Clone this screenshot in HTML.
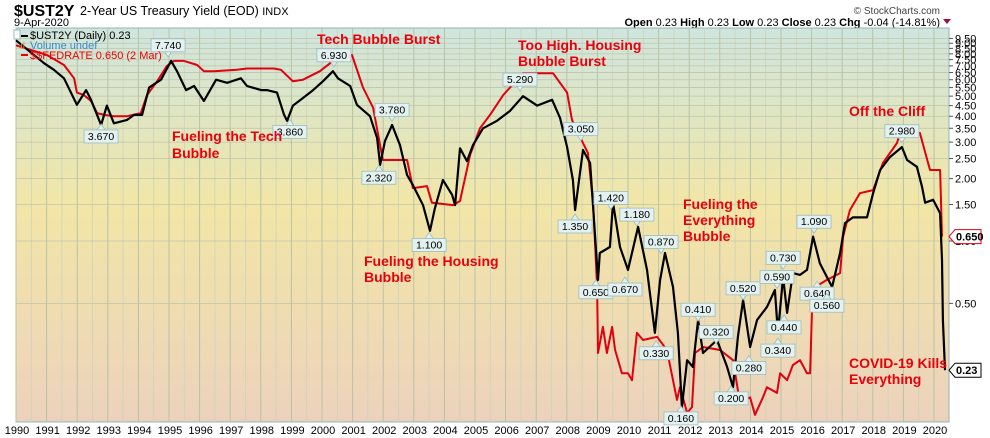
<!DOCTYPE html>
<html><head><meta charset="utf-8">
<style>
body{margin:0;background:#fff;width:990px;height:438px;overflow:hidden;font-family:"Liberation Sans",sans-serif;}
svg{display:block}
</style></head>
<body>
<svg id="chart" width="990" height="438" viewBox="0 0 990 438" xmlns="http://www.w3.org/2000/svg">
<defs>
<linearGradient id="bg" x1="0" y1="0" x2="0" y2="1">
<stop offset="0" stop-color="#cfe5de"/>
<stop offset="0.45" stop-color="#f2e6a6"/>
<stop offset="1" stop-color="#ecd2bd"/>
</linearGradient>
</defs>
<text x="14" y="16" font-size="16" font-weight="bold" fill="#000">$UST2Y</text>
<text x="80" y="15" font-size="12.5" fill="#000">2-Year US Treasury Yield (EOD) <tspan font-size="11">INDX</tspan></text>
<text x="14" y="26" font-size="11" fill="#000">9-Apr-2020</text>
<text x="940" y="14" font-size="10" fill="#444" text-anchor="end">© StockCharts.com</text>
<text x="940" y="26" font-size="11" text-anchor="end" fill="#000"><tspan font-weight="bold">Open</tspan> 0.23  <tspan font-weight="bold">High</tspan> 0.23  <tspan font-weight="bold">Low</tspan> 0.23  <tspan font-weight="bold">Close</tspan> 0.23  <tspan font-weight="bold">Chg</tspan> -0.04 (-14.81%)</text>
<path d="M943 19 L951 19 L947 24 Z" fill="#a0103c"/>
<rect x="16" y="28" width="933" height="394" fill="url(#bg)" stroke="#8fb4b8" stroke-width="1"/>
<g id="grid"></g>
<g id="series"></g>
<g id="callouts"></g>
<g id="axes"></g>
<g>
<rect x="14" y="30" width="6" height="9" fill="#fff" stroke="#9bb"/>
<line x1="21" y1="36" x2="28" y2="36" stroke="#000" stroke-width="2"/>
<text x="30" y="39" font-size="11" fill="#000">$UST2Y (Daily) 0.23</text>
<text x="20" y="49" font-size="10" fill="#d4a020">ıl</text>
<text x="30" y="49" font-size="11" fill="#3a8ad0">Volume undef</text>
<line x1="21" y1="55" x2="28" y2="55" stroke="#e00" stroke-width="2"/>
<text x="30" y="59" font-size="11" fill="#e00">$$FEDRATE 0.650 (2 Mar)</text>
</g>
<g font-size="14" font-weight="bold" fill="#e8000c">
<text x="317" y="44">Tech Bubble Burst</text>
<text x="172" y="141">Fueling the Tech</text>
<text x="172" y="158">Bubble</text>
<text x="518" y="50">Too High. Housing</text>
<text x="518" y="66">Bubble Burst</text>
<text x="364" y="266">Fueling the Housing</text>
<text x="364" y="282">Bubble</text>
<text x="683" y="209">Fueling the</text>
<text x="683" y="225">Everything</text>
<text x="683" y="241">Bubble</text>
<text x="849" y="116">Off the Cliff</text>
<text x="849" y="368">COVID-19 Kills</text>
<text x="849" y="384">Everything</text>
</g>
</svg>
<script>
const years = [1990,1991,1992,1993,1994,1995,1996,1997,1998,1999,2000,2001,2002,2003,2004,2005,2006,2007,2008,2009,2010,2011,2012,2013,2014,2015,2016,2017,2018,2019,2020];
const yTicks = [9.5,9,8.5,8,7.5,7,6.5,6,5.5,5,4.5,4,3.5,3,2.5,2,1.5,1,0.5];
const ust2yT = [1990.00,1990.92,1991.24,1991.57,1991.99,1992.29,1992.45,1992.78,1992.97,1993.20,1993.63,1993.86,1994.12,1994.35,1994.74,1995.07,1995.26,1995.56,1995.82,1996.14,1996.54,1996.90,1997.35,1997.55,1998.01,1998.20,1998.53,1998.76,1998.86,1999.05,1999.38,1999.71,2000.03,2000.36,2000.52,2000.92,2001.14,2001.57,2001.80,2001.90,2002.06,2002.29,2002.55,2002.78,2002.97,2003.30,2003.53,2003.69,2003.95,2004.25,2004.35,2004.51,2004.74,2004.93,2005.26,2005.72,2006.14,2006.57,2007.03,2007.52,2007.78,2008.01,2008.20,2008.27,2008.53,2008.76,2008.86,2009.02,2009.08,2009.41,2009.51,2009.74,2010.00,2010.33,2010.62,2010.88,2011.05,2011.21,2011.47,2011.63,2011.76,2011.93,2012.12,2012.29,2012.45,2012.91,2013.24,2013.43,2013.59,2013.76,2013.99,2014.22,2014.54,2014.80,2014.90,2015.07,2015.20,2015.39,2015.62,2015.85,2016.05,2016.27,2016.50,2016.67,2016.93,2017.09,2017.35,2017.81,2018.01,2018.24,2018.56,2018.95,2019.12,2019.44,2019.61,2019.71,2019.97,2020.20,2020.26,2020.29,2020.36];
const ust2yV = [9.3,7.2,6.7,6.1,4.54,5.35,4.8,3.63,4.5,3.7,3.84,4.06,4.06,5.5,6.0,7.4,6.6,5.35,5.6,4.74,6.0,5.8,6.1,5.6,5.35,5.35,5.2,4.06,3.8,4.5,4.9,5.35,5.9,6.6,6.1,5.6,4.54,4.0,3.14,2.33,3.04,3.63,2.9,2.08,1.86,1.49,1.12,1.44,1.97,1.67,1.49,2.8,2.43,2.9,3.5,3.8,4.24,5.0,4.5,4.8,3.92,2.84,1.97,1.41,2.75,2.38,1.46,0.649,0.875,0.935,1.53,0.935,0.725,1.17,0.725,0.36,0.649,0.875,0.6,0.36,0.158,0.266,0.247,0.416,0.288,0.333,0.247,0.197,0.345,0.519,0.308,0.416,0.48,0.58,0.36,0.67,0.45,0.7,0.686,0.725,1.05,0.78,0.67,0.6,0.875,1.22,1.3,1.3,1.7,2.2,2.54,2.84,2.46,2.28,1.82,1.53,1.58,1.36,0.81,0.416,0.238];
const fedT = [1990.00,1991.01,1991.57,1991.90,1991.99,1992.22,1992.45,1992.65,1992.88,1993.20,1993.63,1994.08,1994.28,1994.61,1994.93,1995.16,1995.49,1995.92,1996.14,1996.47,1997.22,1997.55,1998.43,1998.66,1999.05,1999.38,1999.93,2000.26,2000.49,2000.98,2001.34,2001.67,2001.90,2001.99,2002.78,2002.97,2003.43,2003.59,2004.28,2004.51,2004.84,2005.16,2005.49,2005.92,2006.57,2007.55,2008.01,2008.17,2008.53,2008.69,2008.86,2008.99,2009.02,2009.18,2009.31,2009.48,2009.58,2009.80,2010.00,2010.13,2010.29,2010.49,2010.95,2011.27,2011.60,2011.70,2011.93,2012.09,2012.19,2012.45,2013.01,2013.43,2013.66,2013.99,2014.15,2014.41,2014.54,2014.87,2014.97,2015.20,2015.39,2015.62,2015.85,2015.95,2016.01,2016.11,2016.50,2016.93,2017.03,2017.25,2017.58,2018.01,2018.33,2018.79,2018.89,2019.54,2019.87,2020.20,2020.26];
const fedV = [8.8,7.9,7.07,6.1,5.2,5.06,4.74,4.14,4.06,4.0,4.0,4.14,5.06,5.9,7.0,7.4,7.4,7.07,6.6,6.6,6.7,6.8,6.8,6.7,5.9,6.0,6.6,7.2,8.0,7.9,5.5,4.4,2.9,2.46,2.46,1.8,1.84,1.53,1.49,1.56,2.6,3.5,4.06,5.06,6.45,6.45,5.2,3.84,2.97,2.66,1.53,0.6,0.288,0.385,0.288,0.385,0.298,0.23,0.23,0.213,0.36,0.333,0.345,0.298,0.171,0.197,0.148,0.158,0.288,0.308,0.298,0.266,0.165,0.176,0.145,0.176,0.197,0.185,0.23,0.213,0.252,0.266,0.23,0.23,0.45,0.6,0.649,0.7,1.05,1.41,1.7,1.76,2.38,2.97,3.32,3.32,2.2,2.2,1.05];
const calloutT = [1994.97,1992.78,1998.95,2000.39,2002.29,2001.86,2003.50,2006.47,2008.46,2008.27,2009.44,2010.29,2008.95,2009.90,2011.08,2010.92,2012.29,2011.73,2012.88,2013.76,2013.95,2013.37,2014.87,2015.07,2015.10,2014.90,2016.08,2016.18,2016.50,2018.95];
const calloutV = [7.74,3.67,3.86,6.93,3.78,2.32,1.10,5.29,3.05,1.35,1.42,1.18,0.65,0.67,0.87,0.33,0.41,0.16,0.32,0.52,0.28,0.20,0.59,0.73,0.44,0.34,1.09,0.64,0.56,2.98];
const calloutSide = ['up','down','down','up','up','down','down','up','up','down','up','up','down','down','up','down','up','down','up','up','down','down','up','up','down','down','up','down','down','up'];

const NS='http://www.w3.org/2000/svg';
const X0=16, XS=30.6, Y1=241, YK=90, LEFT=16, RIGHT=949, TOP=28, BOT=422;
function xs(t){return X0+(t-1990)*XS;}
function ys(v){return Y1-YK*Math.log(v);}
function mk(tag,attrs,parent){const e=document.createElementNS(NS,tag);for(const k in attrs)e.setAttribute(k,attrs[k]);parent.appendChild(e);return e;}
const grid=document.getElementById('grid'), axes=document.getElementById('axes'), series=document.getElementById('series'), callouts=document.getElementById('callouts');

years.forEach(y=>{
  const x=xs(y);
  const gl=mk('line',{x1:x,x2:x,y1:TOP,y2:BOT,stroke:'#b7c2a6','stroke-width':1},grid);
  
  
  if(y<2020){const h=mk('line',{x1:x+XS/2,x2:x+XS/2,y1:TOP,y2:BOT,stroke:'#ccd3bb','stroke-width':0.8},grid);
    
    }
  const t=mk('text',{x:x+1,y:434,'font-size':11,'text-anchor':'middle',fill:'#000'},axes);
  t.textContent=y;
  
  
});
yTicks.forEach(v=>{
  const y=ys(v);
  const gl=mk('line',{x1:LEFT,x2:RIGHT,y1:y,y2:y,stroke:'#bcc6ae','stroke-width':0.8},grid);
  
  
  const tk=mk('line',{x1:RIGHT,x2:RIGHT+4,y1:y,y2:y,stroke:'#555'},axes);
  
  
  const t=mk('text',{x:RIGHT+6,y:y+4,'font-size':11,fill:'#000'},axes);
  t.textContent=v.toFixed(2);
  
  
});

function path(T,V){return T.map((t,i)=>(i?'L':'M')+xs(t).toFixed(1)+' '+ys(V[i]).toFixed(1)).join(' ');}
const fed=mk('path',{d:path(fedT,fedV),fill:'none',stroke:'#e00010','stroke-width':2,'stroke-linejoin':'round'},series);


const ust=mk('path',{d:path(ust2yT,ust2yV),fill:'none',stroke:'#000','stroke-width':2.2,'stroke-linejoin':'round'},series);



calloutT.forEach((t,i)=>{
  const x=xs(t), py=ys(calloutV[i]);
  const up=calloutSide[i]==='up';
  const cy=up?py-12:py+12;
  const g=mk('g',{},callouts);
  
  
  mk('path',{d:up?`M${x-4} ${cy+6} L${x+4} ${cy+6} L${x} ${py}Z`:`M${x-4} ${cy-6} L${x+4} ${cy-6} L${x} ${py}Z`,fill:'#dff0ef',stroke:'#9bbcbc','stroke-width':0.8},g);
  mk('rect',{x:x-17,y:cy-6,width:34,height:13,fill:'#e3f2f1',stroke:'#9bbcbc','stroke-width':0.8},g);
  const tx=mk('text',{x:x,y:cy+4,'font-size':10.5,'text-anchor':'middle',fill:'#000'},g);
  tx.textContent=calloutV[i].toFixed(3);
});

function tag(v,label,color){
  const y=ys(v);
  const g=mk('g',{},axes);
  
  
  mk('path',{d:`M${RIGHT} ${y} L${RIGHT+6} ${y-7} L${RIGHT+32} ${y-7} L${RIGHT+32} ${y+7} L${RIGHT+6} ${y+7}Z`,fill:'#fff',stroke:color,'stroke-width':1},g);
  const t=mk('text',{x:RIGHT+7,y:y+4,'font-size':11,'font-weight':'bold',fill:'#000'},g);
  t.textContent=label;
}
tag(fedV[fedV.length-1],'0.650','#e00010');
tag(ust2yV[ust2yV.length-1],'0.23','#000');
</script>
</body></html>
